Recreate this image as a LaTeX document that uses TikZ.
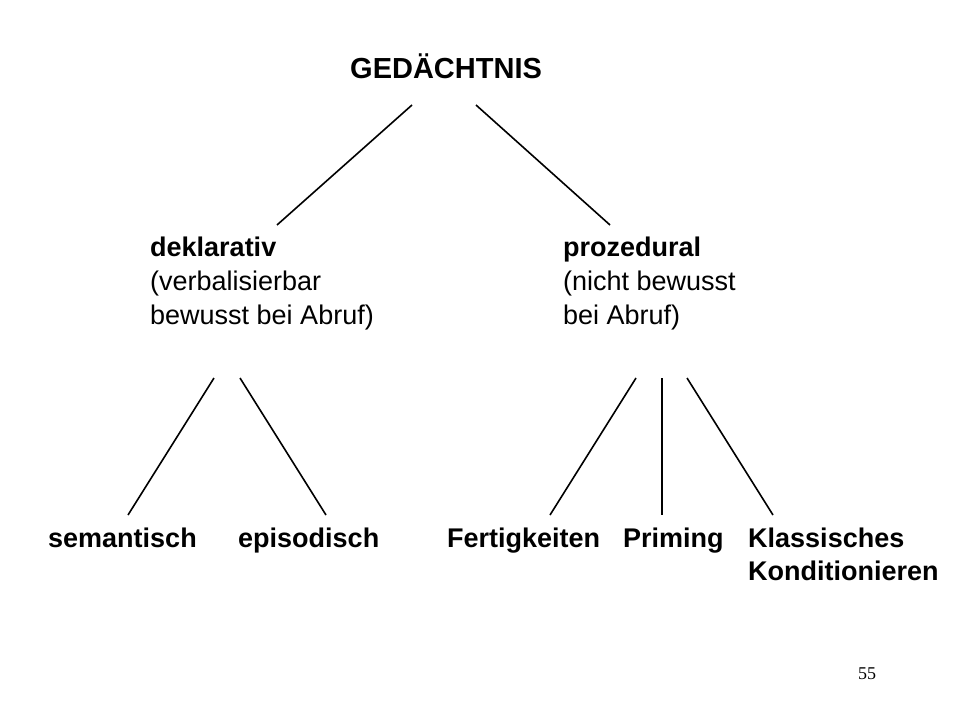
\documentclass[tikz,border=0pt]{standalone}
\usepackage{fontspec}
\setmainfont{Liberation Sans}
\newfontfamily\serifnum{Liberation Serif}
\begin{document}
\begin{tikzpicture}[x=1pt,y=-1pt,
  lbl/.style={anchor=base west,inner sep=0pt,font=\fontsize{27}{32}\selectfont},
  blbl/.style={lbl,font=\fontsize{27}{32}\selectfont\bfseries},
  conn/.style={line width=1.6pt}]
\useasboundingbox[fill=white] (0,0) rectangle (960,720);
\node[blbl,font=\fontsize{29}{34}\selectfont\bfseries] (root) at (350,78) {GEDÄCHTNIS};
\node[blbl] (dek) at (150,256) {deklarativ};
\node[lbl] (dek2) at (150,290) {(verbalisierbar};
\node[lbl] (dek3) at (150,324) {bewusst bei Abruf)};
\node[blbl] (pro) at (563,256) {prozedural};
\node[lbl] (pro2) at (563,290) {(nicht bewusst};
\node[lbl] (pro3) at (563,324) {bei Abruf)};
\node[blbl] (sem) at (48,547) {semantisch};
\node[blbl] (epi) at (238,547) {episodisch};
\node[blbl] (fer) at (447,547) {Fertigkeiten};
\node[blbl] (pri) at (623,547) {Priming};
\node[blbl] (kla) at (748,547) {Klassisches};
\node[blbl] (kon) at (748,580) {Konditionieren};
\node[anchor=base west,inner sep=0pt,font=\serifnum\fontsize{18}{20}\selectfont] (pg) at (858,679) {55};
\coordinate (r1) at (412,105); \coordinate (d1) at (277,225);
\coordinate (r2) at (476,105); \coordinate (p1) at (610,225);
\coordinate (da) at (214,378); \coordinate (sa) at (128,515);
\coordinate (db) at (240,378); \coordinate (ea) at (326,515);
\coordinate (pa) at (636,378); \coordinate (fa) at (550,515);
\coordinate (pb) at (662,378); \coordinate (pra) at (662,515);
\coordinate (pc) at (687,378); \coordinate (ka) at (773,515);
\draw[conn] (r1) -- (d1);
\draw[conn] (r2) -- (p1);
\draw[conn] (da) -- (sa);
\draw[conn] (db) -- (ea);
\draw[conn] (pa) -- (fa);
\draw[conn] (pb) -- (pra);
\draw[conn] (pc) -- (ka);
\end{tikzpicture}
\end{document}
